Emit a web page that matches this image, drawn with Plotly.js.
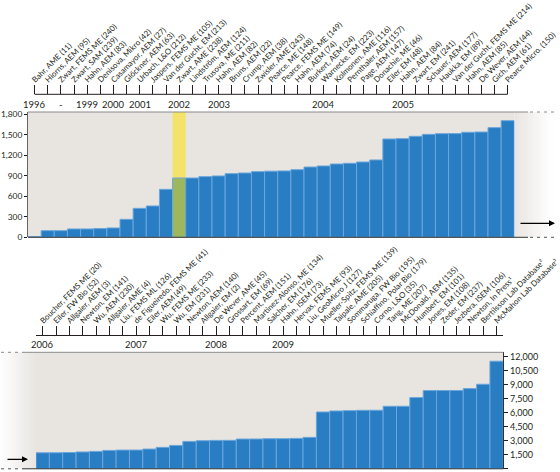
<!DOCTYPE html>
<html><head><meta charset="utf-8">
<script src="https://cdn.plot.ly/plotly-3.0.1.min.js"></script>
<style>html,body{margin:0;padding:0;background:#fff}#chart{width:560px;height:472px}</style>
</head><body><div id="chart"></div>
<script>
// ---------- data ----------
const studiesTop = [
  'Bahr, AME (11)', 'Hiorns, AEM (95)', 'Zwart, FEMS ME (240)', 'Zwart, SAM (239)', 'Hahn, AEM (83)',
  'Denisova, Mikro (42)', 'Casamayor, AEM (27)', 'Glöckner, AEM (63)', 'Urbach, L&O (212)',
  'Jaspers, FEMS ME (105)', 'Van der Gucht, EM (213)', 'Zwart, AME (238)', 'Lindström, AEM (124)',
  'Trusova, ME (211)', 'Hahn, AEM (82)', 'Bruns, AEM (22)', 'Crump, AEM (38)', 'Zwisler, AME (243)',
  'Pearce, ME (148)', 'Pearce, FEMS ME (149)', 'Hahn, AEM (74)', 'Burkert, AEM (24)', 'Warnecke, EM (223)',
  'Kolmonen, AME (116)', 'Pernthaler, AEM (157)', 'Page, AEM (147)', 'Donachie, ME (46)', 'Eiler, EM (48)',
  'Hahn, AEM (84)', 'Zwart, EM (241)', 'Schauer, AEM (177)', 'Haukka, EM (89)',
  'Van der Gucht, FEMS ME (214)', 'Hahn, AEM (85)', 'De Wever, AEM (44)', 'Gich, AEM (61)', 'Pearce Micro. (150)'
];
const countsTop = [
  12, 97, 97, 122, 122, 127, 137, 263, 424, 459, 702, 868, 868, 888, 898, 932, 941, 961, 968,
  971, 990, 1029, 1044, 1073, 1083, 1102, 1132, 1439, 1444, 1478, 1507, 1517, 1518, 1537, 1541, 1605, 1707
];
const yearsTop = ['1996', '-', '1999', '2000', '2001', '2002', '2003', '2004', '2005'];
const yearStartTop = [0, 2, 4, 6, 8, 11, 14, 22, 28];
const highlightTop = 11;

const studiesBottom = [
  'Boucher, FEMS ME (20)', 'Eiler, FW Bio (52)', 'Allgaier, AEM (3)', 'Newton, EM (141)', 'Wu, AEM (230)',
  'Allgaier, AME (4)', 'Liu, FEMS ML (126)', 'de Figueiredo, FEMS ME (41)', 'Eiler, AEM (49)',
  'Wu, FEMS ME (233)', 'Wu, EM (231)', 'Newton, AEM (140)', 'Allgaier, EM (2)', 'De Wever, AME (45)',
  'Grossart, EM (69)', 'Percent, AEM (151)', 'Martinez-Alonso, ME (134)', 'Salcher, EM (176)',
  'Hahn, ISEM (73)', 'Hervas, FEMS ME (93)', 'Liu, GeoMicro J (127)', 'Mueller-Spitz, FEMS ME (139)',
  'Taipale, AME (205)', 'Sommaruga, FW Bio (195)', 'Schiaffino, Polar Bio (179)', 'Corno, L&O (35)',
  'Tang, ME (207)', 'McDonald, AEM (135)', 'Humbert, EM (101)', 'Jones, EM (108)', 'Zeder, EM (237)',
  'Jezbera, ISEM (106)', 'Newton, In Press¹', 'Bertilsson Lab Database²', 'McMahon Lab Database³'
];
const countsBottom = [
  1710, 1715, 1740, 1800, 1860, 1965, 2000, 2005, 2110, 2290, 2500, 2930, 3000, 3035, 3040, 3180,
  3185, 3215, 3220, 3250, 3360, 6070, 6180, 6215, 6250, 6255, 6680, 6685, 7610, 8360, 8365, 8370,
  8570, 9035, 11500
];
const yearsBottom = ['2006', '2007', '2008', '2009'];
const yearStartBottom = [0, 7, 13, 18];

const yTicksTop = [0, 300, 600, 900, 1200, 1500, 1800];
const yTicksBottom = [0, 1500, 3000, 4500, 6000, 7500, 9000, 10500, 12000];

// ---------- styling / layout ----------
const W = 560, H = 472;
const px = v => v / W, py = v => 1 - v / H;
const FONT = 'Lato, "Open Sans", sans-serif';
const TXT = '#231f20';
const BLUE = '#287dc3', BLUE_LINE = '#6ba6dc', GREEN = '#9db85c', YELLOW = '#f4e36b', BG = '#e8e5e1';

const topColors = countsTop.map((_, i) => i === highlightTop ? GREEN : BLUE);

const traces = [
  { type: 'bar', x: studiesTop, y: countsTop, xaxis: 'x', yaxis: 'y',
    marker: { color: topColors, line: { color: BLUE_LINE, width: 1 } }, hoverinfo: 'x+y', showlegend: false },
  { type: 'bar', x: studiesBottom, y: countsBottom, xaxis: 'x2', yaxis: 'y2',
    marker: { color: BLUE, line: { color: BLUE_LINE, width: 1 } }, hoverinfo: 'x+y', showlegend: false }
];

function hexToRgb(h) { return [1, 3, 5].map(i => parseInt(h.substr(i, 2), 16)); }
function gradientStrips(x0, x1, y0, y1, c0, c1, n) {
  const a = hexToRgb(c0), b = hexToRgb(c1), out = [];
  for (let i = 0; i < n; i++) {
    const t = (i + 0.5) / n;
    const c = a.map((v, k) => Math.round(v + (b[k] - v) * t));
    out.push({ type: 'rect', xref: 'paper', yref: 'paper', layer: 'below',
      x0: px(x0 + (x1 - x0) * i / n), x1: px(x0 + (x1 - x0) * (i + 1) / n + 0.6),
      y0: py(y1), y1: py(y0), line: { width: 0 }, fillcolor: `rgb(${c[0]},${c[1]},${c[2]})` });
  }
  return out;
}
function hline(x0, x1, y, color, dash) {
  return { type: 'line', xref: 'paper', yref: 'paper', x0: px(x0), x1: px(x1), y0: py(y), y1: py(y),
    line: { color: color, width: 1, dash: dash || 'solid' } };
}

// pixel geometry of the two panels
const T = { l: 28, r: 514.3, t: 112, b: 237.3, axis: 94.3, years: 104.5 };
const B = { l: 36, r: 503.3, t: 352.3, b: 468.8, axis: 335.3, years: 344.5 };

const shapes = [
  // highlighted column
  { type: 'rect', xref: 'x', yref: 'paper', layer: 'below', x0: highlightTop - 0.5, x1: highlightTop + 0.5,
    y0: py(T.b), y1: py(T.t), fillcolor: YELLOW, line: { width: 0 } },
  ...gradientStrips(T.r, 552, T.t, T.b, BG, '#ffffff', 16),
  ...gradientStrips(0, B.l, B.t, B.b, '#ffffff', BG, 14),
  // top panel frame lines
  hline(T.l, 528, T.t, '#8a8a8a'), hline(530, 558, T.t, '#8a8a8a', '3px,4px'),
  hline(T.l, 528, T.b, '#333333'), hline(530, 558, T.b, '#555555', '3px,4px'),
  // bottom panel frame lines
  hline(22, B.r, B.t, '#8a8a8a'), hline(1, 21, B.t, '#8a8a8a', '3px,4px'),
  hline(22, B.r, B.b, '#333333'), hline(1, 21, B.b, '#555555', '3px,4px'),
  // top timeline line from first to last study
  { type: 'line', xref: 'x', yref: 'paper', x0: 0, x1: studiesTop.length - 1, y0: py(T.axis), y1: py(T.axis),
    line: { color: TXT, width: 1 } }
];

const annotations = [];
yearsTop.forEach((yr, i) => annotations.push({ xref: 'x', yref: 'paper', x: yearStartTop[i], y: py(T.years),
  text: yr, showarrow: false, font: { family: FONT, size: 9.5, color: TXT }, xanchor: 'center', yanchor: 'middle' }));
yearsBottom.forEach((yr, i) => annotations.push({ xref: 'x2', yref: 'paper', x: yearStartBottom[i], y: py(B.years),
  text: yr, showarrow: false, font: { family: FONT, size: 9.5, color: TXT }, xanchor: 'center', yanchor: 'middle' }));
// continuation arrows
annotations.push({ xref: 'paper', yref: 'paper', x: px(555), y: py(223.3), ax: -36, ay: 0, text: '',
  showarrow: true, arrowhead: 2, arrowsize: 1, arrowwidth: 1.2, arrowcolor: '#000' });
annotations.push({ xref: 'paper', yref: 'paper', x: px(28), y: py(459.3), ax: -22, ay: 0, text: '',
  showarrow: true, arrowhead: 2, arrowsize: 1, arrowwidth: 1.2, arrowcolor: '#000' });

const labelFont = { family: FONT, size: 7.9, color: TXT };
const tickFont = { family: FONT, size: 8.4, color: TXT };

const layout = {
  width: W, height: H, margin: { l: 0, r: 0, t: 0, b: 0 },
  paper_bgcolor: '#ffffff', plot_bgcolor: BG, bargap: 0, showlegend: false,
  font: { family: FONT, color: TXT },
  xaxis: { domain: [px(T.l), px(T.r)], type: 'category', range: [-0.5, studiesTop.length - 0.5],
    anchor: 'free', position: py(T.axis), side: 'top', tickangle: -45, ticks: 'outside', ticklen: 9,
    ticklabelshift: -2, ticklabelstandoff: -2, tickcolor: TXT, tickwidth: 1, showline: false, showgrid: false,
    zeroline: false, tickfont: labelFont, fixedrange: true },
  yaxis: { domain: [py(T.b), py(T.t)], range: [0, 1834], tickvals: yTicksTop, tickformat: ',d',
    ticks: 'outside', ticklen: 3, tickcolor: TXT, showline: true, linecolor: '#666', linewidth: 1,
    showgrid: false, zeroline: false, tickfont: tickFont, fixedrange: true },
  xaxis2: { domain: [px(B.l), px(B.r)], type: 'category', range: [-0.5, studiesBottom.length - 0.5],
    anchor: 'free', position: py(B.axis), side: 'top', tickangle: -45, ticks: 'outside', ticklen: 9,
    ticklabelshift: -2, ticklabelstandoff: -2, tickcolor: TXT, tickwidth: 1, showline: true, linecolor: TXT,
    linewidth: 1, showgrid: false, zeroline: false, tickfont: labelFont, fixedrange: true },
  yaxis2: { domain: [py(B.b), py(B.t)], range: [0, 12450], anchor: 'x2', side: 'right', tickvals: yTicksBottom,
    tickformat: ',d', ticks: 'outside', ticklen: 4, tickcolor: TXT, showline: true, linecolor: '#333',
    linewidth: 1, showgrid: false, zeroline: false, tickfont: { family: FONT, size: 9, color: TXT }, fixedrange: true },
  shapes: shapes, annotations: annotations
};

Plotly.newPlot('chart', traces, layout, { displayModeBar: false, staticPlot: true });
</script>
</body></html>
